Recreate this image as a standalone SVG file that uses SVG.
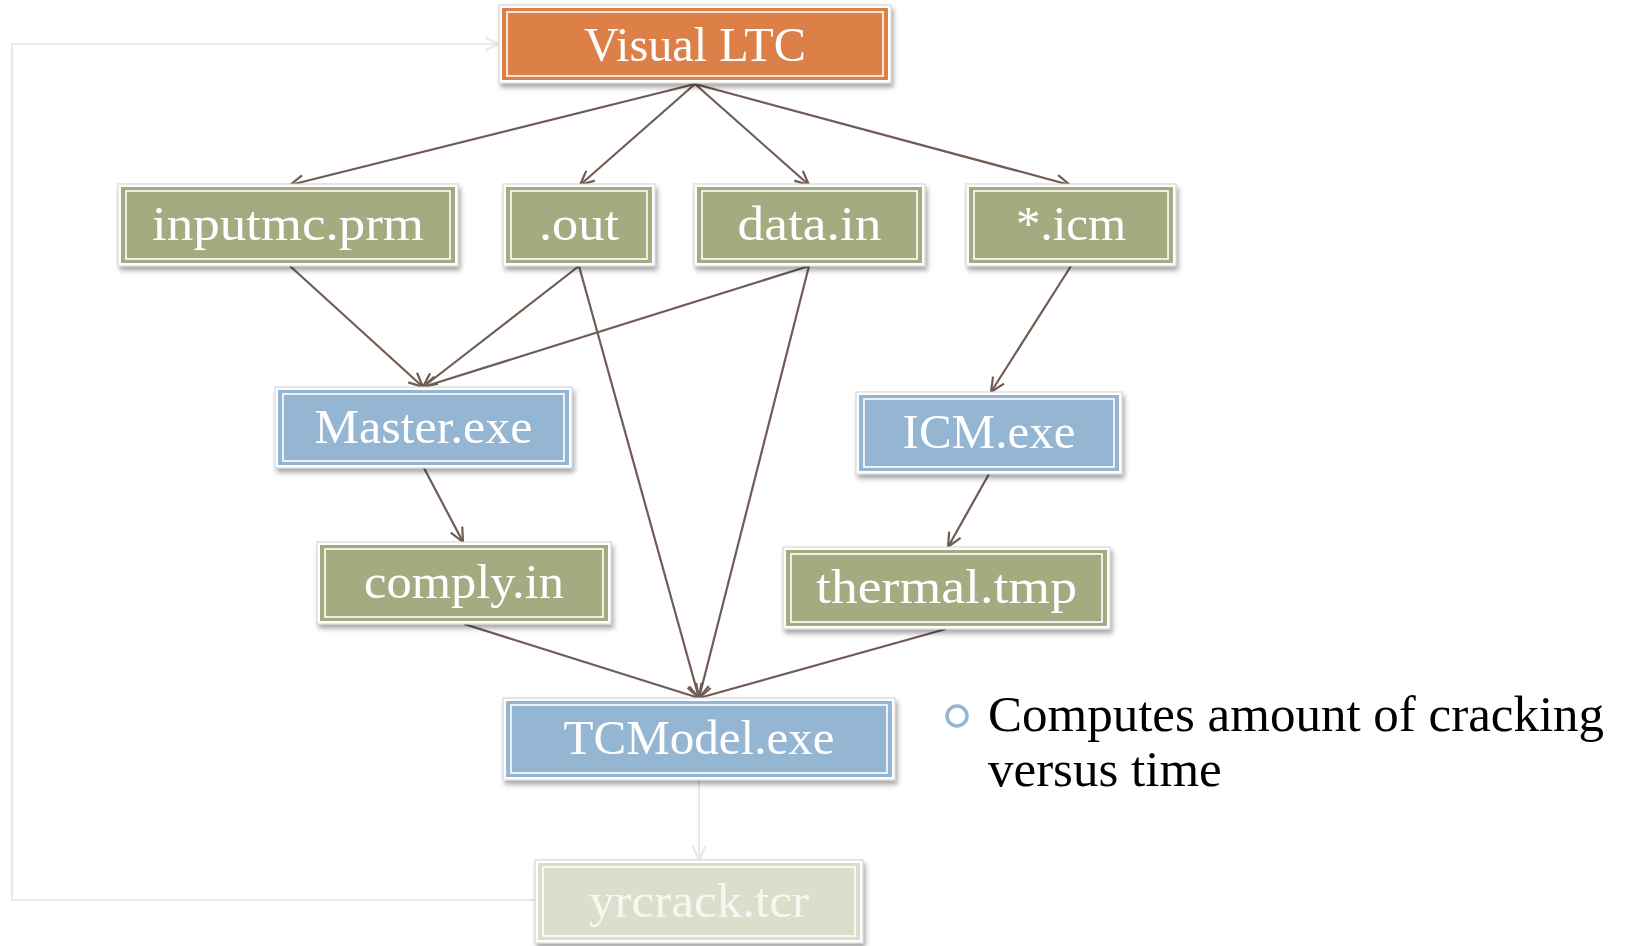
<svg xmlns="http://www.w3.org/2000/svg" width="1625" height="946" viewBox="0 0 1625 946">
<defs>
<filter id="sh" x="-10%" y="-20%" width="120%" height="150%">
<feDropShadow dx="2" dy="4" stdDeviation="2.5" flood-color="#000" flood-opacity="0.35"/>
</filter>
<marker id="ar" viewBox="0 0 16 16" refX="15" refY="8" markerWidth="16" markerHeight="16" markerUnits="userSpaceOnUse" orient="auto">
<path d="M1,1.5 L15,8 L1,14.5" fill="none" stroke="#705c53" stroke-width="2.2"/>
</marker>
<marker id="arl" viewBox="0 0 16 16" refX="15" refY="8" markerWidth="16" markerHeight="16" markerUnits="userSpaceOnUse" orient="auto">
<path d="M1,1.5 L15,8 L1,14.5" fill="none" stroke="#ece8e4" stroke-width="2.2"/>
</marker>
</defs>
<style>
.frame{fill:#fff;stroke:#d0d0d0;stroke-width:1;filter:url(#sh)}
.inner{fill:none;stroke:#fff;stroke-width:1.6}
.org{fill:#dd8047}
.grn{fill:#a5ab81}
.blu{fill:#94b6d2}
.pal{fill:#dcdecb}
.lbl{font-family:"Liberation Serif",serif;font-size:49px;fill:#fff;text-anchor:middle}
.lblp{font-family:"Liberation Serif",serif;font-size:49px;fill:#f7f7f2;text-anchor:middle}
.con{fill:none;stroke:#705c53;stroke-width:2.2;marker-end:url(#ar)}
.conl{fill:none;stroke:#ece8e4;stroke-width:2.2;marker-end:url(#arl)}
.bul{font-family:"Liberation Serif",serif;font-size:51px;fill:#000}
</style>
<rect width="1625" height="946" fill="#fff"/>
<g id="connectors">
<line class="con" x1="695" y1="84" x2="290" y2="185"/>
<line class="con" x1="695" y1="84" x2="580" y2="185"/>
<line class="con" x1="695" y1="84" x2="809" y2="185"/>
<line class="con" x1="695" y1="84" x2="1070" y2="185"/>
<line class="con" x1="290" y1="266" x2="423" y2="387"/>
<line class="con" x1="579" y1="266" x2="423" y2="387"/>
<line class="con" x1="809" y1="266" x2="423" y2="387"/>
<line class="con" x1="579" y1="266" x2="699" y2="698"/>
<line class="con" x1="809" y1="266" x2="699" y2="698"/>
<line class="con" x1="1071" y1="266" x2="991" y2="392"/>
<line class="con" x1="424" y1="468" x2="463" y2="542"/>
<line class="con" x1="989" y1="474" x2="948" y2="547"/>
<line class="con" x1="464" y1="624" x2="699" y2="698"/>
<line class="con" x1="946" y1="629" x2="699" y2="698"/>
<line class="conl" x1="699" y1="780" x2="699" y2="860"/>
<polyline class="conl" points="535,900 12,900 12,44 499,44"/>
</g>
<g id="visual-ltc">
<rect class="frame" x="499" y="5" width="392" height="78"/>
<rect class="org" x="502" y="8" width="386" height="72"/>
<rect class="inner" x="507" y="12" width="376" height="64"/>
<text class="lbl" x="695" y="61" textLength="222" lengthAdjust="spacingAndGlyphs">Visual LTC</text>
</g>
<g id="inputmc-prm">
<rect class="frame" x="118" y="184" width="340" height="82"/>
<rect class="grn" x="121" y="187" width="334" height="76"/>
<rect class="inner" x="126" y="191" width="324" height="68"/>
<text class="lbl" x="288" y="240" textLength="272" lengthAdjust="spacingAndGlyphs">inputmc.prm</text>
</g>
<g id="out">
<rect class="frame" x="503" y="184" width="152" height="82"/>
<rect class="grn" x="506" y="187" width="146" height="76"/>
<rect class="inner" x="511" y="191" width="136" height="68"/>
<text class="lbl" x="579" y="240" textLength="80" lengthAdjust="spacingAndGlyphs">.out</text>
</g>
<g id="data-in">
<rect class="frame" x="694" y="184" width="231" height="82"/>
<rect class="grn" x="697" y="187" width="225" height="76"/>
<rect class="inner" x="702" y="191" width="215" height="68"/>
<text class="lbl" x="809.5" y="240" textLength="144" lengthAdjust="spacingAndGlyphs">data.in</text>
</g>
<g id="icm-file">
<rect class="frame" x="966" y="184" width="210" height="82"/>
<rect class="grn" x="969" y="187" width="204" height="76"/>
<rect class="inner" x="974" y="191" width="194" height="68"/>
<text class="lbl" x="1071" y="240">*.icm</text>
</g>
<g id="master-exe">
<rect class="frame" x="275" y="387" width="297" height="81"/>
<rect class="blu" x="278" y="390" width="291" height="75"/>
<rect class="inner" x="283" y="394" width="281" height="67"/>
<text class="lbl" x="423.5" y="443" textLength="218" lengthAdjust="spacingAndGlyphs">Master.exe</text>
</g>
<g id="icm-exe">
<rect class="frame" x="856" y="392" width="266" height="82"/>
<rect class="blu" x="859" y="395" width="260" height="76"/>
<rect class="inner" x="864" y="399" width="250" height="68"/>
<text class="lbl" x="989" y="448">ICM.exe</text>
</g>
<g id="comply-in">
<rect class="frame" x="317" y="542" width="294" height="82"/>
<rect class="grn" x="320" y="545" width="288" height="76"/>
<rect class="inner" x="325" y="549" width="278" height="68"/>
<text class="lbl" x="464" y="598" textLength="200" lengthAdjust="spacingAndGlyphs">comply.in</text>
</g>
<g id="thermal-tmp">
<rect class="frame" x="783" y="547" width="327" height="82"/>
<rect class="grn" x="786" y="550" width="321" height="76"/>
<rect class="inner" x="791" y="554" width="311" height="68"/>
<text class="lbl" x="946.5" y="603" textLength="261" lengthAdjust="spacingAndGlyphs">thermal.tmp</text>
</g>
<g id="tcmodel-exe">
<rect class="frame" x="503" y="698" width="392" height="82"/>
<rect class="blu" x="506" y="701" width="386" height="76"/>
<rect class="inner" x="511" y="705" width="376" height="68"/>
<text class="lbl" x="699" y="754" textLength="271" lengthAdjust="spacingAndGlyphs">TCModel.exe</text>
</g>
<g id="yrcrack-tcr">
<rect class="frame" x="535" y="860" width="328" height="83"/>
<rect class="pal" x="538" y="863" width="322" height="77"/>
<rect class="inner" x="543" y="867" width="312" height="69"/>
<text class="lblp" x="699" y="917" textLength="220" lengthAdjust="spacingAndGlyphs">yrcrack.tcr</text>
</g>
<g id="bullet">
<circle cx="957" cy="716" r="10" fill="none" stroke="#94b6d2" stroke-width="3.5"/>
<text class="bul" x="988" y="731">Computes amount of cracking</text>
<text class="bul" x="988" y="786">versus time</text>
</g>
</svg>
